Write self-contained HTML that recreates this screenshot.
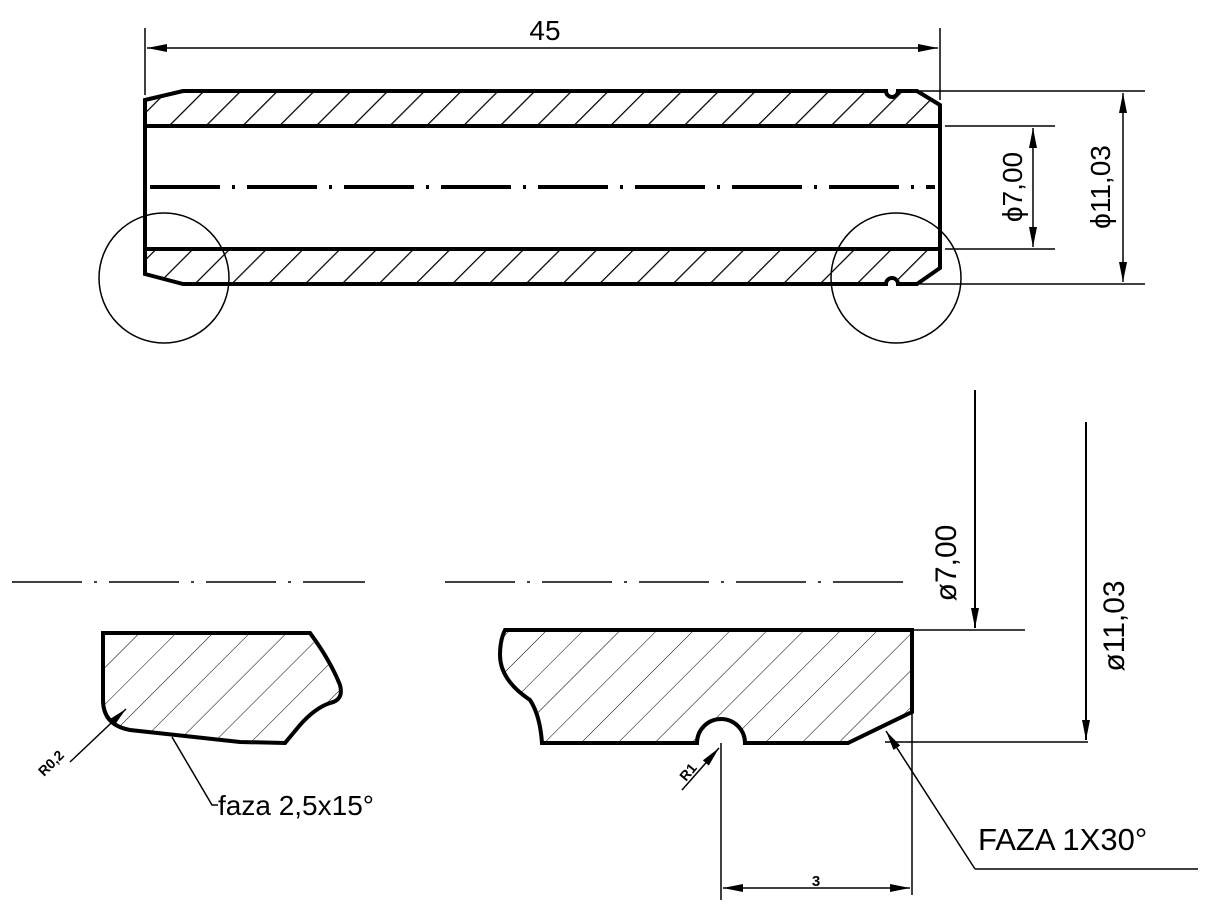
<!DOCTYPE html>
<html><head><meta charset="utf-8"><style>html,body{margin:0;padding:0;background:#fff}svg{display:block}</style></head>
<body>
<svg width="1214" height="915" viewBox="0 0 1214 915" xmlns="http://www.w3.org/2000/svg" font-family="'Liberation Sans', sans-serif">
<defs>
<pattern id="h1" patternUnits="userSpaceOnUse" width="26" height="26" patternTransform="rotate(45)">
<line x1="0" y1="0" x2="0" y2="26" stroke="#000" stroke-width="2.5"/></pattern>
<pattern id="h2" patternUnits="userSpaceOnUse" width="26" height="26" patternTransform="rotate(45)">
<line x1="0" y1="0" x2="0" y2="26" stroke="#000" stroke-width="1"/></pattern>
<marker id="a" viewBox="0 0 20 8" refX="20" refY="4" markerWidth="20" markerHeight="8" markerUnits="userSpaceOnUse" orient="auto-start-reverse"><path d="M0,0L20,4L0,8z" fill="#000"/></marker>
</defs>
<g fill="none" stroke="#000">
<path d="M145,100 L183,91 L886,91 A6,6 0 0 0 898,91 L917,91 L940,105 L940,126 L145,126 Z" fill="url(#h1)" stroke="none"/>
<path d="M145,249 L940,249 L940,268 L917,284 L898,284 A6,6 0 0 0 886,284 L183,284 L145,274 Z" fill="url(#h1)" stroke="none"/>
<path d="M145,100 L183,91 L886,91 A6,6 0 0 0 898,91 L917,91 L940,105 L940,268 L917,284 L898,284 A6,6 0 0 0 886,284 L183,284 L145,274 Z" stroke-width="4"/>
<line x1="145" y1="126" x2="940" y2="126" stroke-width="4"/>
<line x1="145" y1="249" x2="940" y2="249" stroke-width="4"/>
<line x1="150" y1="187" x2="935" y2="187" stroke-width="4" stroke-dasharray="70,12,3,12"/>
<circle cx="164" cy="278" r="65" stroke-width="1.5"/>
<circle cx="896" cy="278" r="65" stroke-width="1.5"/>
<line x1="145" y1="28" x2="145" y2="95" stroke-width="1.5"/>
<line x1="940" y1="28" x2="940" y2="100" stroke-width="1.5"/>
<line x1="147" y1="48" x2="938" y2="48" stroke-width="1.5" marker-start="url(#a)" marker-end="url(#a)"/>
<line x1="920" y1="91" x2="1145" y2="91" stroke-width="1.5"/>
<line x1="920" y1="284" x2="1145" y2="284" stroke-width="1.5"/>
<line x1="945" y1="126" x2="1055" y2="126" stroke-width="1.5"/>
<line x1="945" y1="249" x2="1055" y2="249" stroke-width="1.5"/>
<line x1="1033" y1="128" x2="1033" y2="247" stroke-width="1.5" marker-start="url(#a)" marker-end="url(#a)"/>
<line x1="1123" y1="93" x2="1123" y2="282" stroke-width="1.5" marker-start="url(#a)" marker-end="url(#a)"/>
<line x1="12" y1="582" x2="365" y2="582" stroke-width="1.5" stroke-dasharray="70,12,3,12"/>
<line x1="445" y1="582" x2="905" y2="582" stroke-width="1.5" stroke-dasharray="70,12,3,12"/>
<path d="M103,633 L310,633 Q330,660 340,685 Q344,700 330,703 Q315,708 300,725 L285,743 L240,742 L130,730 Q103,725 103,700 Z" fill="url(#h2)" stroke-width="4"/>
<line x1="70" y1="762" x2="126" y2="709" stroke-width="1.5" marker-end="url(#a)"/>
<polyline points="172,737 212,805 218,805" stroke-width="1.5"/>
<path d="M505,630 L912,630 L912,712 L848,743 L745,743 A24,24 0 0 0 697,743 L542,743 Q540,715 530,700 Q500,680 500,655 Q500,640 505,630 Z" fill="url(#h2)" stroke-width="4"/>
<line x1="721" y1="743" x2="721" y2="900" stroke-width="1.5"/>
<line x1="912" y1="712" x2="912" y2="895" stroke-width="1.5"/>
<line x1="723" y1="888" x2="910" y2="888" stroke-width="1.5" marker-start="url(#a)" marker-end="url(#a)"/>
<line x1="682" y1="790" x2="719" y2="748" stroke-width="1.5" marker-end="url(#a)"/>
<line x1="912" y1="630" x2="1025" y2="630" stroke-width="1.5"/>
<line x1="975" y1="390" x2="975" y2="628" stroke-width="2" marker-end="url(#a)"/>
<line x1="885" y1="742" x2="1088" y2="742" stroke-width="1.5"/>
<line x1="1086" y1="422" x2="1086" y2="740" stroke-width="2" marker-end="url(#a)"/>
<line x1="1198" y1="869" x2="975" y2="869" stroke-width="1.5"/>
<line x1="975" y1="869" x2="886" y2="731" stroke-width="1.5" marker-end="url(#a)"/>
</g>
<g fill="#000">
<text x="545" y="40" font-size="28" text-anchor="middle">45</text>
<text transform="translate(1022,187) rotate(-90)" font-size="28" text-anchor="middle">ϕ7,00</text>
<text transform="translate(1110,187) rotate(-90)" font-size="28" text-anchor="middle">ϕ11,03</text>
<text transform="translate(956,563) rotate(-90)" font-size="30" text-anchor="middle">ø7,00</text>
<text transform="translate(1124,626) rotate(-90)" font-size="30" text-anchor="middle">ø11,03</text>
<text x="978" y="850" font-size="31">FAZA 1X30°</text>
<text x="218" y="815" font-size="28">faza 2,5x15°</text>
<text transform="translate(44,777) rotate(-45)" font-size="14" font-weight="bold">R0,2</text>
<text transform="translate(686,782) rotate(-50)" font-size="14" font-weight="bold">R1</text>
<text x="816" y="886" font-size="15" font-weight="bold" text-anchor="middle">3</text>
</g>
</svg>
</body></html>
